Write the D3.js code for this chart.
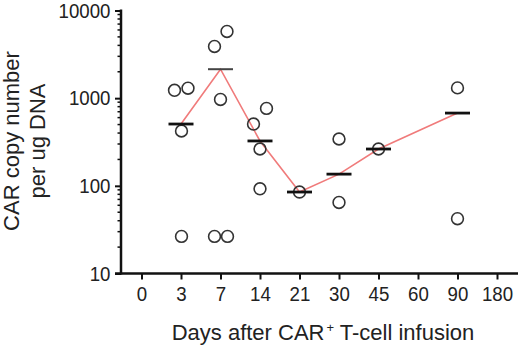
<!DOCTYPE html>
<html>
<head>
<meta charset="utf-8">
<script src="https://cdn.jsdelivr.net/npm/d3@7"></script>
<style>
  body { margin: 0; background: #fff; }
  text { font-family: "Liberation Sans", Arial, sans-serif; fill: #222; }
</style>
</head>
<body>
<div id="chart"></div>
<script>
// Data
const days = ["0", "3", "7", "14", "21", "30", "45", "60", "90", "180"];
const sampleDays = ["3", "7", "14", "21", "30", "45", "90"];
const copies = [
  [1230, 1300, 422, 26.5],
  [3890, 5770, 967, 26.5, 26.5],
  [507, 764, 263, 92.5],
  [85],
  [342, 64.6],
  [263],
  [1310, 42.2]
];
// horizontal spread of overlapping points, in pixels
const spread = [
  [-6.5, 7, 0.5, 0.5],
  [-6, 6.5, 0, -6, 7],
  [-6.5, 6.5, 0, 0],
  [0],
  [0, 0],
  [0],
  [0, 0]
];
const means = [507, 2140, 325, 85, 136, 263, 676];
const yTicks = [10, 100, 1000, 10000];

const width = 520, height = 346;
const squeeze = 0.89; // tick labels are set in a narrow face

const svg = d3.select("#chart").append("svg")
  .attr("width", width)
  .attr("height", height);

const x = d3.scalePoint()
  .domain(days)
  .range([141.5, 497]);

const y = d3.scaleLog()
  .domain([10, 10000])
  .range([273.5, 10.5]);

// Y axis: major ticks with labels
const yAxis = svg.append("g")
  .attr("transform", "translate(121,0)")
  .call(d3.axisLeft(y).tickValues(yTicks).tickFormat(d3.format("d")).tickSize(6).tickPadding(4.5));
yAxis.select(".domain").remove();
yAxis.selectAll(".tick line").attr("stroke", "#111").attr("stroke-width", 2);
yAxis.selectAll(".tick text")
  .attr("font-size", 21)
  .attr("font-family", "Liberation Sans, Arial, sans-serif")
  .attr("fill", "#222")
  .attr("x", -10.5 / squeeze)
  .attr("transform", `scale(${squeeze},1)`);

// minor ticks
const minor = [];
[10, 100, 1000].forEach(d => { for (let k = 2; k <= 9; k++) minor.push(d * k); });
svg.append("g").selectAll("line")
  .data(minor)
  .join("line")
  .attr("x1", 117.5).attr("x2", 121)
  .attr("y1", d => y(d)).attr("y2", d => y(d))
  .attr("stroke", "#111").attr("stroke-width", 1.5);

svg.append("line")
  .attr("x1", 121).attr("x2", 121)
  .attr("y1", y(10000) - 1).attr("y2", y(10) + 1)
  .attr("stroke", "#111").attr("stroke-width", 2.5);

// X axis
const xAxis = svg.append("g")
  .attr("transform", `translate(0,${y(10)})`)
  .call(d3.axisBottom(x).tickSize(6).tickPadding(7));
xAxis.select(".domain").remove();
xAxis.selectAll(".tick line").attr("stroke", "#111").attr("stroke-width", 2);
xAxis.selectAll(".tick text")
  .attr("font-size", 21)
  .attr("font-family", "Liberation Sans, Arial, sans-serif")
  .attr("fill", "#222")
  .attr("transform", `scale(${squeeze},1)`);

svg.append("line")
  .attr("x1", 115).attr("x2", 518)
  .attr("y1", y(10)).attr("y2", y(10))
  .attr("stroke", "#111").attr("stroke-width", 2.5);

// axis titles
const xt = svg.append("text")
  .attr("x", 323).attr("y", 340)
  .attr("text-anchor", "middle")
  .attr("font-size", 22);
xt.append("tspan").text("Days after CAR");
xt.append("tspan").attr("dy", -8).attr("dx", 2).attr("font-size", 13).text("+");
xt.append("tspan").attr("dy", 8).text(" T-cell infusion");

svg.append("text")
  .attr("transform", "translate(18.5,141) rotate(-90)")
  .attr("text-anchor", "middle")
  .attr("font-size", 22)
  .text("CAR copy number");
svg.append("text")
  .attr("transform", "translate(45,141) rotate(-90)")
  .attr("text-anchor", "middle")
  .attr("font-size", 22)
  .text("per ug DNA");

// line through the means
svg.append("path")
  .datum(means)
  .attr("fill", "none")
  .attr("stroke", "#f07b7b")
  .attr("stroke-width", 1.6)
  .attr("d", d3.line().x((d, i) => x(sampleDays[i])).y(d => y(d)));

// individual points
const pts = [];
sampleDays.forEach((day, i) => {
  copies[i].forEach((v, j) => pts.push({ day, v, dx: spread[i][j] }));
});
svg.append("g").selectAll("circle")
  .data(pts)
  .join("circle")
  .attr("cx", d => x(d.day) + d.dx)
  .attr("cy", d => y(d.v))
  .attr("r", 5.9)
  .attr("fill", "none")
  .attr("stroke", "#333")
  .attr("stroke-width", 1.6);

// mean bars
svg.append("g").selectAll("line")
  .data(means)
  .join("line")
  .attr("x1", (d, i) => x(sampleDays[i]) - 12.5)
  .attr("x2", (d, i) => x(sampleDays[i]) + 12.5)
  .attr("y1", d => y(d))
  .attr("y2", d => y(d))
  .attr("stroke", (d, i) => sampleDays[i] === "7" ? "#444" : "#111")
  .attr("stroke-width", (d, i) => sampleDays[i] === "7" ? 2 : 2.8);
</script>
</body>
</html>
